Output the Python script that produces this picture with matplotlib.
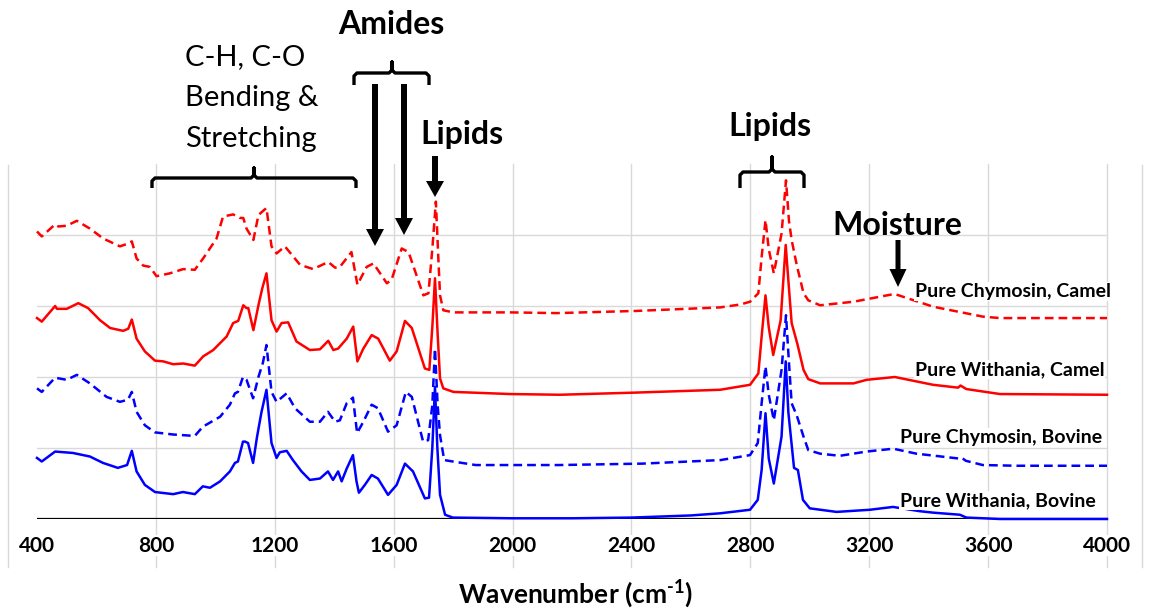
import matplotlib
matplotlib.use("Agg")
import matplotlib.pyplot as plt
from matplotlib import transforms
from matplotlib.lines import Line2D
from matplotlib.patches import FancyArrow

plt.rcParams['font.family'] = ['Lato', 'DejaVu Sans']
plt.rcParams['mathtext.fontset'] = 'custom'
plt.rcParams['mathtext.rm'] = 'Lato:bold'
plt.rcParams['mathtext.bf'] = 'Lato:bold'

# ---------------------------------------------------------------- data
tick_values = [400, 800, 1200, 1600, 2000, 2400, 2800, 3200, 3600, 4000]

# Pure Withania, Bovine
wn_wb = [400, 416, 461, 521, 578, 622, 672, 703, 719, 735, 763, 797, 858, 891, 931,
         958, 982, 1016, 1049, 1066, 1076, 1093, 1100, 1110, 1127, 1140, 1155, 1172,
         1189, 1206, 1217, 1240, 1261, 1290, 1318, 1352, 1379, 1396, 1413, 1425, 1442,
         1463, 1475, 1483, 1503, 1526, 1547, 1581, 1610, 1638, 1665, 1705, 1719, 1730,
         1739, 1747, 1756, 1773, 1799, 2000, 2200, 2400, 2600, 2698, 2799, 2825, 2838,
         2851, 2862, 2879, 2905, 2919, 2928, 2947, 2960, 2977, 3000, 3090, 3202, 3280,
         3370, 3414, 3505, 3527, 3640, 4000]
ab_wb = [0.86, 0.81, 0.95, 0.93, 0.88, 0.79, 0.72, 0.76, 0.96, 0.67, 0.48, 0.38, 0.35,
         0.38, 0.35, 0.46, 0.44, 0.53, 0.67, 0.79, 0.81, 1.09, 1.09, 1.07, 0.79, 1.15,
         1.5, 1.82, 1.07, 0.86, 0.94, 0.96, 0.83, 0.67, 0.55, 0.57, 0.67, 0.55, 0.67,
         0.53, 0.71, 0.9, 0.53, 0.37, 0.48, 0.62, 0.57, 0.34, 0.48, 0.78, 0.67, 0.29,
         0.30, 1.0, 1.86, 1.0, 0.34, 0.06, 0.02, 0.01, 0.01, 0.02, 0.05, 0.08, 0.13,
         0.27, 0.69, 1.49, 0.85, 0.5, 1.16, 2.22, 1.5, 0.72, 0.69, 0.27, 0.15, 0.10,
         0.13, 0.17, 0.11, 0.09, 0.06, 0.02, 0.0, 0.0]

# Pure Chymosin, Bovine
wn_cb = [400, 416, 461, 500, 534, 578, 634, 679, 706, 719, 735, 763, 797, 858, 931,
         958, 1016, 1049, 1066, 1076, 1093, 1105, 1127, 1145, 1160, 1172, 1189, 1206,
         1240, 1268, 1318, 1352, 1379, 1403, 1419, 1442, 1463, 1477, 1498, 1526, 1547,
         1581, 1610, 1641, 1661, 1699, 1716, 1730, 1739, 1748, 1756, 1770, 1799, 1876,
         2157, 2437, 2700, 2799, 2825, 2838, 2851, 2862, 2879, 2905, 2920, 2930, 2939,
         2956, 2979, 2995, 3035, 3101, 3191, 3281, 3359, 3505, 3512, 3525, 3582, 3696,
         4000]
ab_cb = [1.84, 1.79, 1.99, 1.96, 2.03, 1.91, 1.72, 1.65, 1.68, 1.79, 1.51, 1.32, 1.22,
         1.19, 1.17, 1.30, 1.44, 1.61, 1.77, 1.79, 2.0, 1.96, 1.70, 2.0, 2.2, 2.45,
         1.79, 1.65, 1.77, 1.56, 1.37, 1.37, 1.51, 1.37, 1.39, 1.63, 1.71, 1.21, 1.37,
         1.61, 1.56, 1.23, 1.32, 1.79, 1.72, 1.09, 1.11, 1.6, 2.4, 1.6, 1.18, 0.83,
         0.81, 0.76, 0.76, 0.78, 0.83, 0.90, 1.07, 1.63, 2.15, 1.75, 1.39, 2.10, 2.87,
         2.2, 1.63, 1.46, 1.16, 0.97, 0.92, 0.89, 0.95, 0.99, 0.92, 0.85, 0.86, 0.82,
         0.76, 0.75, 0.75]

# Pure Withania, Camel
wn_wc = [400, 416, 461, 467, 500, 539, 572, 612, 646, 690, 707, 719, 735, 763, 797,
         825, 858, 892, 931, 959, 993, 1038, 1060, 1077, 1094, 1105, 1111, 1128, 1145,
         1158, 1172, 1189, 1206, 1223, 1245, 1273, 1318, 1352, 1380, 1397, 1413, 1442,
         1464, 1478, 1498, 1526, 1548, 1587, 1610, 1638, 1661, 1705, 1720, 1730, 1739,
         1748, 1756, 1767, 1801, 1992, 2160, 2412, 2698, 2799, 2827, 2838, 2851, 2862,
         2877, 2902, 2919, 2929, 2939, 2958, 2979, 2995, 3035, 3147, 3191, 3286, 3415,
         3499, 3507, 3527, 3640, 4000]
ab_wc = [2.83, 2.78, 3.0, 2.96, 2.96, 3.04, 2.97, 2.80, 2.69, 2.65, 2.68, 2.81, 2.54,
         2.36, 2.23, 2.22, 2.18, 2.19, 2.16, 2.29, 2.38, 2.57, 2.76, 2.79, 3.01, 2.97,
         2.97, 2.66, 3.01, 3.25, 3.46, 2.80, 2.64, 2.76, 2.77, 2.50, 2.38, 2.39, 2.51,
         2.38, 2.40, 2.54, 2.71, 2.22, 2.40, 2.59, 2.54, 2.23, 2.36, 2.79, 2.69, 2.12,
         2.10, 2.7, 3.39, 2.6, 1.98, 1.84, 1.79, 1.76, 1.75, 1.78, 1.82, 1.89, 2.05,
         2.57, 3.15, 2.7, 2.31, 2.80, 3.86, 3.3, 2.76, 2.47, 2.10, 1.97, 1.91, 1.91,
         1.96, 2.00, 1.89, 1.85, 1.88, 1.83, 1.76, 1.75]

# Pure Chymosin, Camel
wn_cc = [400, 416, 461, 472, 500, 534, 578, 623, 679, 707, 719, 735, 757, 780, 802,
         847, 892, 931, 959, 1004, 1026, 1060, 1083, 1094, 1105, 1128, 1145, 1158, 1172,
         1189, 1206, 1234, 1285, 1329, 1380, 1403, 1419, 1458, 1478, 1509, 1532, 1577,
         1593, 1627, 1650, 1700, 1717, 1730, 1742, 1750, 1756, 1767, 1801, 1992, 2149,
         2412, 2698, 2765, 2799, 2827, 2838, 2851, 2862, 2879, 2905, 2920, 2930, 2939,
         2956, 2979, 2995, 3035, 3147, 3285, 3415, 3583, 3640, 4000]
ab_cc = [4.05, 3.98, 4.15, 4.12, 4.13, 4.20, 4.09, 3.95, 3.84, 3.88, 3.91, 3.67, 3.57,
         3.55, 3.42, 3.46, 3.52, 3.51, 3.67, 3.95, 4.26, 4.29, 4.24, 4.24, 4.09, 3.93,
         4.28, 4.33, 4.38, 3.84, 3.74, 3.84, 3.58, 3.52, 3.62, 3.54, 3.55, 3.76, 3.30,
         3.55, 3.60, 3.32, 3.37, 3.81, 3.76, 3.15, 3.18, 3.8, 4.47, 3.7, 3.15, 2.94,
         2.91, 2.91, 2.90, 2.93, 2.98, 3.02, 3.06, 3.18, 3.69, 4.21, 3.8, 3.46, 4.02,
         4.77, 4.2, 3.93, 3.58, 3.18, 3.08, 3.01, 3.06, 3.17, 2.99, 2.85, 2.83, 2.83]

series_names = ["Pure Withania, Bovine", "Pure Chymosin, Bovine",
                "Pure Withania, Camel", "Pure Chymosin, Camel"]

# ---------------------------------------------------------------- figure
W, H = 1152, 610
fig = plt.figure(figsize=(W / 100, H / 100), dpi=100)
fig.patch.set_facecolor('white')

# pixel coordinates measured from the top-left corner of the canvas
PX = (transforms.Affine2D().scale(1, -1).translate(0, H)
      + transforms.Affine2D().scale(1.0 / fig.dpi) + fig.dpi_scale_trans)

ax = fig.add_axes([37 / W, 1 - 519 / H, (1107 - 37) / W, (519 - 164) / H])
ax.set_xlim(400, 4000)
ax.set_ylim(0, 5)
for s in ax.spines.values():
    s.set_visible(False)
ax.set_yticks([])

GRID = '#D9D9D9'
for yv in [1, 2, 3, 4]:
    ax.axhline(yv, color=GRID, lw=1.0, zorder=0)
for xv in tick_values[1:]:
    ax.plot([xv, xv], [-0.135, 1.0], transform=ax.get_xaxis_transform(),
            color=GRID, lw=1.0, zorder=0, clip_on=False)
ax.axhline(0, color='black', lw=1.6, zorder=1)

for xp in (8, 1142):
    fig.add_artist(Line2D([xp, xp], [165, 567], transform=PX, color=GRID, lw=1.0))

dash = (0, (3.5, 2.0))
styles = [('#0000FF', '-'), ('#0000FF', dash), ('#FF0000', '-'), ('#FF0000', dash)]
data = [(wn_wb, ab_wb), (wn_cb, ab_cb), (wn_wc, ab_wc), (wn_cc, ab_cc)]
for (x, y), (c, ls), name in zip(data, styles, series_names):
    ax.plot(x, y, color=c, ls=ls, lw=1.8, zorder=3, clip_on=False, label=name)

ax.set_xticks(tick_values)
ax.set_xticklabels([str(v) for v in tick_values], fontsize=15, fontweight='bold')
ax.tick_params(axis='x', length=0, pad=12)
for t in ax.get_xticklabels():
    t.set_bbox(dict(fc='white', ec='none', pad=0.5))

fig.text(W / 2 / W, 1 - 603 / H, r'Wavenumber (cm$^{\text{-1}}$)',
         ha='center', va='baseline', fontsize=19, fontweight='bold')

# series labels at the right-hand end of each trace
label_pos = {"Pure Chymosin, Camel": (915, 297), "Pure Withania, Camel": (915, 375),
             "Pure Chymosin, Bovine": (900, 443), "Pure Withania, Bovine": (900, 506)}
for name, (lx, ly) in label_pos.items():
    fig.text(lx, ly, name, transform=PX, ha='left', va='baseline', fontsize=14,
             fontweight='bold', bbox=dict(fc='white', ec='none', pad=0.5), zorder=4)

# band annotations
fig.text(185, 65, "C-H, C-O", transform=PX, fontsize=21, va='baseline')
fig.text(185, 106, "Bending &", transform=PX, fontsize=21, va='baseline')
fig.text(185, 147, "Stretching", transform=PX, fontsize=21, va='baseline')
fig.text(391, 34, "Amides", transform=PX, fontsize=23, fontweight='bold',
         ha='center', va='baseline')
fig.text(462, 144, "Lipids", transform=PX, fontsize=23, fontweight='bold',
         ha='center', va='baseline')
fig.text(770, 136, "Lipids", transform=PX, fontsize=23, fontweight='bold',
         ha='center', va='baseline')
fig.text(897, 235, "Moisture", transform=PX, fontsize=23, fontweight='bold',
         ha='center', va='baseline')


def brace(x0, x1, xc, yh, yb, yt):
    r = 3
    xs = [x0, x0, x0 + r, xc - r, xc, xc, xc, xc + r, x1 - r, x1, x1]
    ys = [yb, yh + r, yh, yh, yh - r, yt, yh - r, yh, yh, yh + r, yb]
    fig.add_artist(Line2D(xs, ys, transform=PX, color='black', lw=2.4,
                          solid_joinstyle='round', solid_capstyle='butt'))


brace(152, 356, 254, 178, 188, 168)
brace(354, 429, 392, 73, 85, 62)
brace(740, 804, 772, 172, 188, 157)


def down_arrow(x, y0, y1, shaft=6, head_w=18, head_l=17):
    fig.add_artist(FancyArrow(x, y0, 0, y1 - y0, width=shaft, head_width=head_w,
                              head_length=head_l, length_includes_head=True,
                              transform=PX, color='black', lw=0))


down_arrow(375, 84, 246)
down_arrow(404, 84, 235)
down_arrow(435, 156, 197, shaft=6, head_w=18, head_l=16)
down_arrow(898, 240, 287, shaft=5, head_w=17, head_l=18)

fig.savefig('out.png', dpi=100, facecolor='white')
